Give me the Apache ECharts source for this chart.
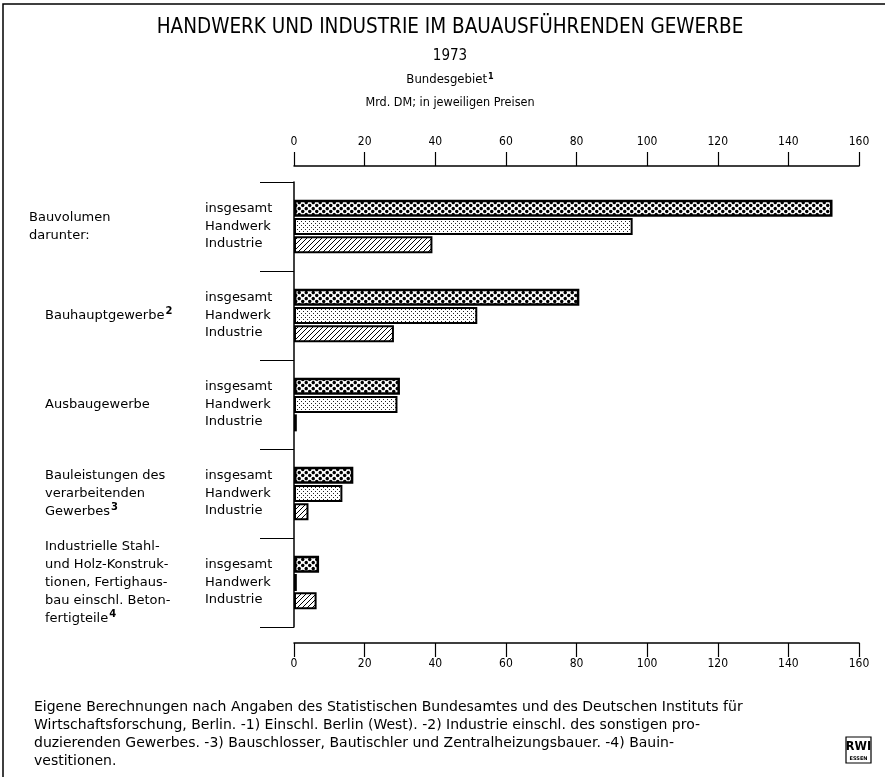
<!DOCTYPE html>
<html lang="de">
<head>
    <meta charset="UTF-8">
    <title>Handwerk und Industrie im bauausführenden Gewerbe</title>
    <style>
        html, body {
            margin: 0;
            padding: 0;
            background: #fff;
        }
        #main {
            width: 885px;
            height: 777px;
        }
    </style>
</head>
<body>
<div id="main"></div>
<script src="https://cdn.jsdelivr.net/npm/echarts@6/dist/echarts.min.js"></script>
<script>
    // Daten, Mrd. DM
    let groups = ['Bauvolumen', 'Bauhauptgewerbe', 'Ausbaugewerbe', 'Bauleistungen', 'Industrielle'];
    let subLabels = ['insgesamt', 'Handwerk', 'Industrie'];
    let insgesamt = [152.5, 80.8, 30.0, 16.8, 7.1];
    let handwerk = [95.9, 51.9, 29.3, 13.7, 0.8];
    let industrie = [39.2, 28.3, 0.8, 4.1, 6.4];
    let xTicks = [0, 20, 40, 60, 80, 100, 120, 140, 160];

    // Beschriftung links (mit Fußnoten-Hochzahlen)
    let groupText = {
        'Bauvolumen': '{a|Bauvolumen}\n{a|darunter:}',
        'Bauhauptgewerbe': '{b|Bauhauptgewerbe}{s|2}',
        'Ausbaugewerbe': '{b|Ausbaugewerbe}',
        'Bauleistungen': '{b|Bauleistungen des}\n{b|verarbeitenden}\n{b|Gewerbes}{s|3}',
        'Industrielle': '{b|Industrielle Stahl-}\n{b|und Holz-Konstruk-}\n{b|tionen, Fertighaus-}\n{b|bau einschl. Beton-}\n{b|fertigteile}{s|4}'
    };

    // Schraffuren
    function bigDots() {
        let c = document.createElement('canvas');
        c.width = 7;
        c.height = 6;
        let ctx = c.getContext('2d');
        ctx.fillStyle = '#fff';
        ctx.fillRect(0, 0, 7, 6);
        ctx.fillStyle = '#000';
        [[1.75, 1.5], [5.25, 4.5], [8.75, 1.5], [-1.75, 4.5], [1.75, 7.5], [5.25, -1.5]].forEach(function (p) {
            ctx.beginPath();
            ctx.arc(p[0], p[1], 1.7, 0, Math.PI * 2);
            ctx.fill();
        });
        return c;
    }

    function fineDots() {
        let c = document.createElement('canvas');
        c.width = 4;
        c.height = 4;
        let ctx = c.getContext('2d');
        ctx.fillStyle = '#fff';
        ctx.fillRect(0, 0, 4, 4);
        ctx.fillStyle = '#222';
        ctx.fillRect(1, 1, 1, 1);
        ctx.fillRect(3, 3, 1, 1);
        return c;
    }

    function hatch() {
        let c = document.createElement('canvas');
        c.width = 5;
        c.height = 5;
        let ctx = c.getContext('2d');
        ctx.fillStyle = '#fff';
        ctx.fillRect(0, 0, 5, 5);
        ctx.strokeStyle = '#000';
        ctx.lineWidth = 1;
        ctx.beginPath();
        ctx.moveTo(-1, 6); ctx.lineTo(6, -1);
        ctx.moveTo(-1, 1); ctx.lineTo(1, -1);
        ctx.moveTo(4, 6); ctx.lineTo(6, 4);
        ctx.stroke();
        return c;
    }

    let font = 'DejaVu Sans';
    let condensed = "'DejaVu Sans Condensed', 'Liberation Sans Narrow', sans-serif";

    let myChart = echarts.init(document.getElementById('main'), null, {renderer: 'canvas'});

    function bar(name, data, pattern, bw) {
        return {
            name: name,
            type: 'bar',
            data: data,
            barWidth: 17,
            barGap: '8%',
            itemStyle: {
                color: {image: pattern, repeat: 'repeat'},
                borderColor: '#000',
                borderWidth: bw
            },
            animation: false
        };
    }

    let xAxisBase = {
        type: 'value',
        min: 0,
        max: 160,
        interval: 20,
        offset: 16,
        axisLine: {show: true, lineStyle: {color: '#000', width: 1.5}},
        axisTick: {show: true, length: 14, lineStyle: {color: '#000', width: 1.2}},
        splitLine: {show: false},
        axisLabel: {
            color: '#000',
            fontFamily: condensed,
            fontSize: 12,
            customValues: xTicks
        }
    };

    let option = {
        backgroundColor: '#fff',
        grid: {left: 294, right: 26, top: 182, bottom: 150},
        xAxis: [
            Object.assign({}, xAxisBase, {position: 'top', axisLabel: Object.assign({}, xAxisBase.axisLabel, {margin: 18})}),
            Object.assign({}, xAxisBase, {position: 'bottom', axisLabel: Object.assign({}, xAxisBase.axisLabel, {margin: 15})})
        ],
        yAxis: [
            {
                type: 'category',
                data: groups,
                inverse: true,
                axisLine: {show: true, lineStyle: {color: '#000', width: 1.5}},
                axisTick: {show: true, length: 34, lineStyle: {color: '#000', width: 1.2}},
                axisLabel: {
                    margin: 89,
                    align: 'left',
                    color: '#000',
                    fontFamily: font,
                    fontSize: 13,
                    lineHeight: 17.5,
                    formatter: function () {
                        return subLabels.join('\n');
                    }
                }
            },
            {
                type: 'category',
                data: groups,
                inverse: true,
                position: 'left',
                axisLine: {show: false},
                axisTick: {show: false},
                axisLabel: {
                    margin: 265,
                    align: 'left',
                    formatter: function (v) {
                        return groupText[v];
                    },
                    rich: {
                        a: {fontFamily: font, fontSize: 13, color: '#000', lineHeight: 18},
                        b: {fontFamily: font, fontSize: 13, color: '#000', lineHeight: 18, padding: [0, 0, 0, 16]},
                        s: {fontFamily: font, fontSize: 10, fontWeight: 'bold', color: '#000', verticalAlign: 'top', lineHeight: 18, padding: [0, 0, 6, 1]}
                    }
                }
            }
        ],
        series: [
            bar(subLabels[0], insgesamt, bigDots(), 2.5),
            bar(subLabels[1], handwerk, fineDots(), 2),
            bar(subLabels[2], industrie, hatch(), 2)
        ],
        graphic: [
            {
                type: 'polyline',
                shape: {points: [[3, 777], [3, 4], [885, 4]]},
                style: {stroke: '#000', lineWidth: 1.5, fill: null}
            },
            {
                type: 'text', x: 450, y: 28,
                style: {text: 'HANDWERK UND INDUSTRIE IM BAUAUSFÜHRENDEN GEWERBE', align: 'center', verticalAlign: 'middle',
                    font: '20.5px ' + condensed, fill: '#000'}
            },
            {
                type: 'text', x: 450, y: 56,
                style: {text: '1973', align: 'center', verticalAlign: 'middle', font: '15px ' + condensed, fill: '#000'}
            },
            {
                type: 'text', x: 450, y: 80,
                style: {
                    text: '{t|Bundesgebiet}{s|1}', align: 'center', verticalAlign: 'middle', fill: '#000',
                    rich: {
                        t: {font: '13px ' + condensed, fill: '#000'},
                        s: {font: 'bold 9px ' + condensed, fill: '#000', verticalAlign: 'top', padding: [0, 0, 6, 1]}
                    }
                }
            },
            {
                type: 'text', x: 450, y: 103,
                style: {text: 'Mrd. DM; in jeweiligen Preisen', align: 'center', verticalAlign: 'middle', font: '12.5px ' + condensed, fill: '#000'}
            },
            {
                type: 'text', x: 34, y: 698,
                style: {
                    text: 'Eigene Berechnungen nach Angaben des Statistischen Bundesamtes und des Deutschen Instituts für\n' +
                        'Wirtschaftsforschung, Berlin. -1) Einschl. Berlin (West). -2) Industrie einschl. des sonstigen pro-\n' +
                        'duzierenden Gewerbes. -3) Bauschlosser, Bautischler und Zentralheizungsbauer. -4) Bauin-\n' +
                        'vestitionen.',
                    font: '14px ' + font, lineHeight: 18, fill: '#000'
                }
            },
            {
                type: 'rect',
                shape: {x: 846, y: 737, width: 25, height: 26},
                style: {stroke: '#000', lineWidth: 1.2, fill: '#fff'}
            },
            {
                type: 'text', x: 858.5, y: 747,
                style: {text: 'RWI', align: 'center', verticalAlign: 'middle', font: 'bold 12.5px ' + condensed, fill: '#000'}
            },
            {
                type: 'text', x: 858.5, y: 759,
                style: {text: 'ESSEN', align: 'center', verticalAlign: 'middle', font: 'bold 5px ' + font, fill: '#000'}
            }
        ]
    };

    myChart.setOption(option);
</script>
</body>
</html>
